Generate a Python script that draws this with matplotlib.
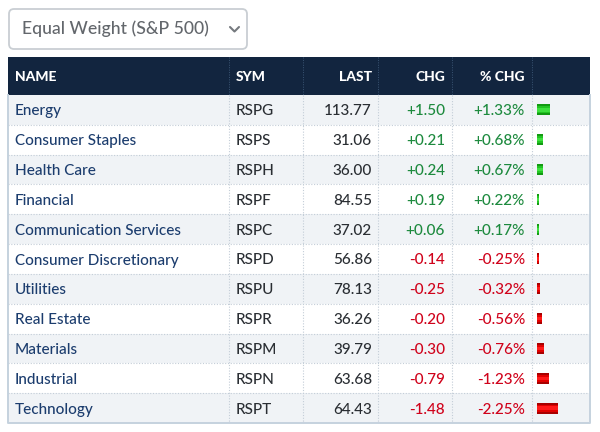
import matplotlib
matplotlib.use("Agg")
import matplotlib.pyplot as plt
from matplotlib.patches import Rectangle, FancyBboxPatch
import numpy as np

plt.rcParams['font.family'] = ['Lato', 'DejaVu Sans']

title = "Equal Weight (S&P 500)"
headers = ["NAME", "SYM", "LAST", "CHG", "% CHG"]
names = ["Energy", "Consumer Staples", "Health Care", "Financial", "Communication Services",
         "Consumer Discretionary", "Utilities", "Real Estate", "Materials", "Industrial", "Technology"]
syms = ["RSPG", "RSPS", "RSPH", "RSPF", "RSPC", "RSPD", "RSPU", "RSPR", "RSPM", "RSPN", "RSPT"]
last = [113.77, 31.06, 36.00, 84.55, 37.02, 56.86, 78.13, 36.26, 39.79, 63.68, 64.43]
chg = [1.50, 0.21, 0.24, 0.19, 0.06, -0.14, -0.25, -0.20, -0.30, -0.79, -1.48]
pct = [1.33, 0.68, 0.67, 0.22, 0.17, -0.25, -0.32, -0.56, -0.76, -1.23, -2.25]

W, H = 600, 432
fig = plt.figure(figsize=(6, 4.32), dpi=100)
ax = fig.add_axes([0, 0, 1, 1])
ax.set_xlim(0, W)
ax.set_ylim(H, 0)
ax.axis('off')

# dropdown
box = FancyBboxPatch((9, 9), 238, 40, boxstyle="round,pad=0,rounding_size=5",
                     fc='white', ec='#c9ced3', lw=1.3)
ax.add_patch(box)
ax.text(22, 34, title, fontsize=12.7, fontweight='medium', color='#63676c', va='baseline', ha='left')
ax.plot([230, 234.5, 239], [27, 31.5, 27], color='#75797e', lw=1.5, solid_capstyle='round')

# table geometry
left, right = 8, 590
head_top, head_bot = 57, 95
row_h = (423 - head_bot) / len(names)
col_x = [left, 229, 303, 378, 452, 532, right]

ax.add_patch(Rectangle((left, head_top), right - left, head_bot - head_top, fc='#12253f', ec='none'))
head_y = (head_top + head_bot) / 2
hx = [15, 236, 372, 445, 525]
ha = ['left', 'left', 'right', 'right', 'right']
for t, x, a in zip(headers, hx, ha):
    ax.text(x, head_y + 5, t, fontsize=10, fontweight='black', color='white', ha=a, va='baseline')
for x in col_x[1:-1]:
    ax.plot([x, x], [head_top, head_bot], color='#3a5574', lw=0.7, ls=(0, (1, 1.5)))

green = '#1d8a3e'
red = '#d0021b'
fs = 11
fw = 'medium'
for i in range(len(names)):
    y0 = head_bot + i * row_h
    yb = y0 + row_h / 2 + 5.5
    fc = '#f0f3f6' if i % 2 == 0 else 'white'
    ax.add_patch(Rectangle((left, y0), right - left, row_h, fc=fc, ec='none'))
    if i > 0:
        ax.plot([left, right], [y0, y0], color='#c3cdd7', lw=0.8, ls=(0, (1, 1.5)))
    c = green if chg[i] >= 0 else red
    ax.text(15, yb, names[i], fontsize=fs, fontweight=fw, color='#1c3d6e', ha='left', va='baseline')
    ax.text(236, yb, syms[i], fontsize=fs, fontweight=fw, color='#2a2e33', ha='left', va='baseline')
    ax.text(372, yb, f"{last[i]:.2f}", fontsize=fs, fontweight=fw, color='#2a2e33', ha='right', va='baseline')
    ax.text(445, yb, f"{chg[i]:+.2f}", fontsize=fs, fontweight=fw, color=c, ha='right', va='baseline')
    ax.text(525, yb, f"{pct[i]:+.2f}%", fontsize=fs, fontweight=fw, color=c, ha='right', va='baseline')

for x in col_x[1:-1]:
    ax.plot([x, x], [head_bot, 423], color='#c3cdd7', lw=0.8, ls=(0, (1, 1.5)))
# outer border
ax.plot([left, left, right, right], [head_bot, 423, 423, head_bot], color='#c5d2de', lw=1.4)

# bar column in its own axes (1% ~ 9.4 px)
bx0, bx1 = 537, 588
bax = fig.add_axes([bx0 / W, 1 - 423 / H, (bx1 - bx0) / W, (423 - head_bot) / H])
bax.set_xlim(0, (bx1 - bx0) / 9.4)
bax.set_ylim(len(names) - 0.5, -0.5)
bax.axis('off')
ypos = np.arange(len(names))
absp = np.abs(pct)
dark = ['#129a12' if p >= 0 else '#a80000' for p in pct]
mid = ['#22c422' if p >= 0 else '#e00000' for p in pct]
light = ['#3ee03e' if p >= 0 else '#ff1a1a' for p in pct]
hgt = 11 / row_h
bax.barh(ypos, absp, height=hgt, color=dark, linewidth=0)
bax.barh(ypos, absp, height=hgt * 0.65, color=mid, linewidth=0)
bax.barh(ypos, absp, height=hgt * 0.3, color=light, linewidth=0)

fig.savefig("out.png", dpi=100)
